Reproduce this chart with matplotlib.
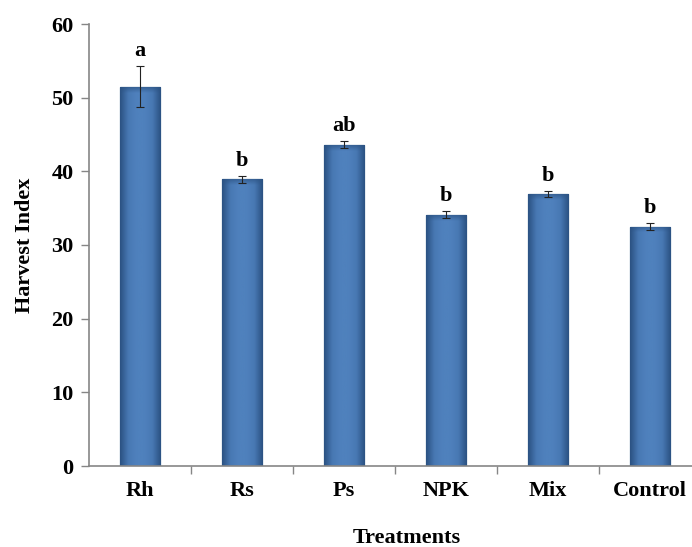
import matplotlib
matplotlib.use("Agg")
import matplotlib.pyplot as plt
import numpy as np
from matplotlib.colors import LinearSegmentedColormap

categories = ["Rh", "Rs", "Ps", "NPK", "Mix", "Control"]
values = [51.5, 38.9, 43.6, 34.1, 36.9, 32.5]
errors = [2.8, 0.5, 0.5, 0.45, 0.45, 0.5]
letters = ["a", "b", "ab", "b", "b", "b"]
yticks = [0, 10, 20, 30, 40, 50, 60]

plt.rcParams['font.family'] = ['Liberation Serif', 'DejaVu Serif']
plt.rcParams['font.weight'] = 'bold'

fig = plt.figure(figsize=(6.92, 5.47), dpi=100)
ax = fig.add_axes([89/692, 81/547, 612/692, 442/547])

x = np.arange(len(categories))
bars = ax.bar(x, values, width=0.4, color="#4F81BD", edgecolor="#34608F",
              linewidth=0.9, zorder=2)

# cylinder-like shading clipped to each bar
cmap = LinearSegmentedColormap.from_list(
    "shade", ["#2B5283", "#4878B3", "#4F81BD", "#4F81BD", "#4878B3", "#2B5283"])
grad = np.linspace(0, 1, 64).reshape(1, -1)
for b in bars:
    x0, y0 = b.get_x(), b.get_y()
    w, h = b.get_width(), b.get_height()
    im = ax.imshow(grad, cmap=cmap, extent=[x0, x0 + w, y0, y0 + h],
                   aspect="auto", zorder=2.5, interpolation="bicubic")
    im.set_clip_path(b)
    top = np.linspace(0, 1, 32).reshape(-1, 1)
    im2 = ax.imshow(top, cmap=LinearSegmentedColormap.from_list(
        "t", [(0.18, 0.33, 0.52, 0.0), (0.18, 0.33, 0.52, 0.7)]),
        extent=[x0, x0 + w, y0 + h - 0.8, y0 + h], aspect="auto",
        zorder=2.6, origin="lower")
    im2.set_clip_path(b)

ax.errorbar(x, values, yerr=errors, fmt="none", ecolor="#222222",
            elinewidth=0.8, capsize=3, capthick=0.8, zorder=4)

for xi, v, e, lab in zip(x, values, errors, letters):
    ax.text(xi, v + e + 0.7, lab, ha="center", va="bottom",
            fontsize=16, fontweight="bold")

ax.set_xlim(-0.5, len(categories) - 0.5)
ax.set_ylim(0, 60)
ax.set_yticks(yticks)
ax.set_yticklabels([str(t) for t in yticks], fontsize=16, fontweight="bold")
ax.set_xticks(x)
ax.set_xticklabels(categories, fontsize=16, fontweight="bold")
ax.set_xticks(np.arange(len(categories)) + 0.5, minor=True)

ax.tick_params(axis="x", which="major", length=0, pad=11)
ax.tick_params(axis="x", which="minor", length=6, color="#868686", width=1)
ax.tick_params(axis="y", length=6, color="#868686", width=1, pad=5)

for s in ["top", "right"]:
    ax.spines[s].set_visible(False)
for s in ["left", "bottom"]:
    ax.spines[s].set_color("#868686")
    ax.spines[s].set_linewidth(1.2)

ax.set_ylabel("Harvest Index", fontsize=16, fontweight="bold")
ax.set_xlabel("Treatments", fontsize=16, fontweight="bold")
ax.xaxis.set_label_coords((407 - 89) / 612, -(528 - 466) / 442)
ax.yaxis.set_label_coords(-(89 - 35) / 612, (466 - 245) / 442)

fig.savefig("out.png", dpi=100)
